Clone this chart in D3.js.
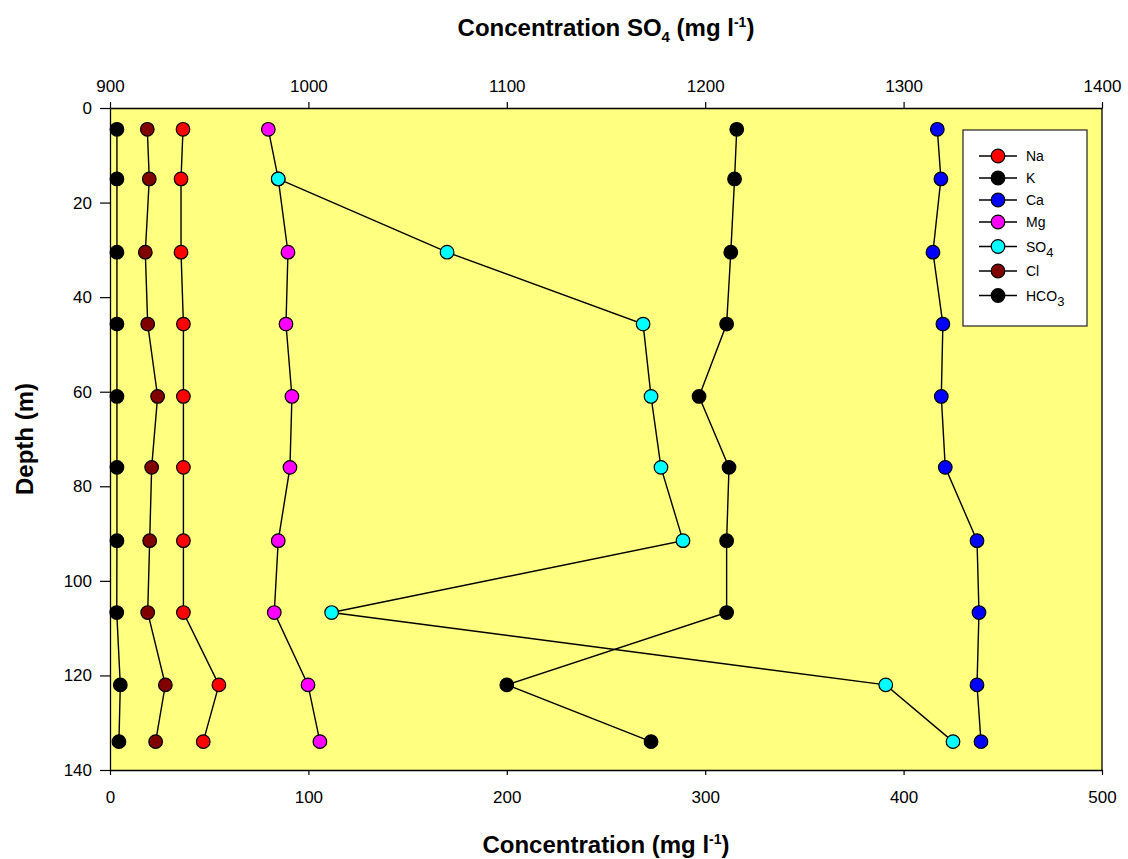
<!DOCTYPE html>
<html>
<head>
<meta charset="utf-8">
<script src="https://cdn.jsdelivr.net/npm/d3@7"></script>
<style>
  html, body { margin: 0; padding: 0; background: #fff; }
  svg { display: block; }
  text { font-family: "Liberation Sans", Arial, Helvetica, sans-serif; fill: #000; }
</style>
</head>
<body>
<svg id="chart" width="1128" height="859"></svg>
<script>
// Sampling depths (m)
const depths = [4.5, 15, 30.5, 45.7, 61, 76, 91.5, 106.7, 122, 134];

// Ion concentrations (mg l-1) per depth
const na   = [36.8, 35.8, 35.8, 37, 37, 37, 37, 37, 54.9, 47];
const k    = [3.5, 3.5, 3.5, 3.5, 3.5, 3.5, 3.5, 3.4, 5.2, 4.5];
const ca   = [417, 418.8, 414.8, 419.8, 419, 421, 437, 438, 437, 439];
const mg   = [79.8, 84.8, 89.7, 88.7, 91.7, 90.7, 84.8, 82.8, 99.8, 105.8];
const so4  = [null, 984.8, 1069.9, 1168.7, 1172.7, 1177.7, 1188.8, 1011.7, 1291, 1324.9];
const cl   = [18.8, 19.8, 17.8, 19, 24, 21, 20, 19, 27.9, 23];
const hco3 = [315.9, 314.8, 312.9, 310.8, 296.9, 312, 310.8, 310.8, 200, 272.7];

// Axis ticks
const bottomTicks = [0, 100, 200, 300, 400, 500];
const topTicks = [900, 1000, 1100, 1200, 1300, 1400];
const depthTicks = [0, 20, 40, 60, 80, 100, 120, 140];

// Series definitions: name parts (base, subscript), values, fill, which x axis
const series = [
  { base: "Na", sub: "",  values: na,   fill: "#ff0000", axis: "bottom" },
  { base: "K",  sub: "",  values: k,    fill: "#000000", axis: "bottom" },
  { base: "Ca", sub: "",  values: ca,   fill: "#0000ff", axis: "bottom" },
  { base: "Mg", sub: "",  values: mg,   fill: "#ff00ff", axis: "bottom" },
  { base: "SO", sub: "4", values: so4,  fill: "#00ffff", axis: "top" },
  { base: "Cl", sub: "",  values: cl,   fill: "#800000", axis: "bottom" },
  { base: "HCO", sub: "3", values: hco3, fill: "#000000", axis: "bottom" }
];

const svg = d3.select("#chart");
const plot = { left: 110, right: 1102, top: 108, bottom: 770 };

const xBottom = d3.scaleLinear().domain([0, 500]).range([plot.left, plot.right]);
const xTop = d3.scaleLinear().domain([900, 1400]).range([plot.left, plot.right]);
const y = d3.scaleLinear().domain([0, 140]).range([plot.top, plot.bottom]);

const fmt = d3.format("d");

// Plot background
svg.append("rect")
  .attr("x", plot.left).attr("y", plot.top)
  .attr("width", plot.right - plot.left).attr("height", plot.bottom - plot.top)
  .attr("fill", "#ffff80");

// Axes
function styleAxis(g) {
  g.selectAll("path").attr("stroke", "#000").attr("stroke-width", 1.3);
  g.selectAll("line").attr("stroke", "#000").attr("stroke-width", 1.2);
  g.selectAll("text").attr("font-size", "17px").attr("fill", "#000")
    .attr("font-family", '"Liberation Sans", Arial, sans-serif');
}

svg.append("g")
  .attr("transform", `translate(0,${plot.bottom})`)
  .call(d3.axisBottom(xBottom).tickValues(bottomTicks).tickFormat(fmt)
    .tickSize(5).tickSizeOuter(0).tickPadding(16))
  .call(styleAxis);

svg.append("g")
  .attr("transform", `translate(0,${plot.top})`)
  .call(d3.axisTop(xTop).tickValues(topTicks).tickFormat(fmt)
    .tickSize(6).tickSizeOuter(0).tickPadding(10))
  .call(styleAxis);

svg.append("g")
  .attr("transform", `translate(${plot.left},0)`)
  .call(d3.axisLeft(y).tickValues(depthTicks).tickFormat(fmt)
    .tickSize(10).tickSizeOuter(0).tickPadding(8))
  .call(styleAxis);

// Right frame edge
svg.append("line")
  .attr("x1", plot.right).attr("x2", plot.right)
  .attr("y1", plot.top).attr("y2", plot.bottom)
  .attr("stroke", "#000").attr("stroke-width", 1.3);

// Series lines and markers
series.forEach(s => {
  const xs = s.axis === "top" ? xTop : xBottom;
  const pts = depths.map((d, i) => ({ d, v: s.values[i] })).filter(p => p.v != null);
  const line = d3.line().x(p => xs(p.v)).y(p => y(p.d));
  const g = svg.append("g");
  g.append("path")
    .attr("d", line(pts))
    .attr("fill", "none")
    .attr("stroke", "#000")
    .attr("stroke-width", 1.4);
  g.selectAll("circle").data(pts).join("circle")
    .attr("cx", p => xs(p.v))
    .attr("cy", p => y(p.d))
    .attr("r", 6.8)
    .attr("fill", s.fill)
    .attr("stroke", "#000")
    .attr("stroke-width", 1.2);
});

// Legend
const legend = svg.append("g");
legend.append("rect")
  .attr("x", 963).attr("y", 130)
  .attr("width", 124).attr("height", 196)
  .attr("fill", "#ffffff")
  .attr("stroke", "#222").attr("stroke-width", 1.2);

let ly = 156;
series.forEach((s, i) => {
  if (i > 0) {
    ly += 22 + (s.sub ? 2.5 : 0) + (series[i - 1].sub ? 2.5 : 0);
  }
  const row = legend.append("g");
  row.append("line")
    .attr("x1", 979).attr("x2", 1017)
    .attr("y1", ly).attr("y2", ly)
    .attr("stroke", "#000").attr("stroke-width", 1.4);
  row.append("circle")
    .attr("cx", 998).attr("cy", ly).attr("r", 6.8)
    .attr("fill", s.fill).attr("stroke", "#000").attr("stroke-width", 1.2);
  const t = row.append("text")
    .attr("x", 1026).attr("y", ly + 5)
    .attr("font-size", "14px");
  t.append("tspan").text(s.base);
  if (s.sub) {
    t.append("tspan").attr("dy", 5).attr("font-size", "13px").text(s.sub);
  }
});

// Axis titles
const topTitle = svg.append("text")
  .attr("x", 606).attr("y", 36)
  .attr("text-anchor", "middle")
  .attr("font-size", "24px").attr("font-weight", "bold");
topTitle.append("tspan").text("Concentration SO");
topTitle.append("tspan").attr("dy", 6).attr("font-size", "15px").text("4");
topTitle.append("tspan").attr("dy", -6).text(" (mg l");
topTitle.append("tspan").attr("dy", -9).attr("font-size", "14px").text("-1");
topTitle.append("tspan").attr("dy", 9).text(")");

const bottomTitle = svg.append("text")
  .attr("x", 606).attr("y", 853)
  .attr("text-anchor", "middle")
  .attr("font-size", "24px").attr("font-weight", "bold");
bottomTitle.append("tspan").text("Concentration (mg l");
bottomTitle.append("tspan").attr("dy", -9).attr("font-size", "14px").text("-1");
bottomTitle.append("tspan").attr("dy", 9).text(")");

svg.append("text")
  .attr("transform", "translate(33,439) rotate(-90)")
  .attr("text-anchor", "middle")
  .attr("font-size", "24px").attr("font-weight", "bold")
  .text("Depth (m)");
</script>
</body>
</html>
